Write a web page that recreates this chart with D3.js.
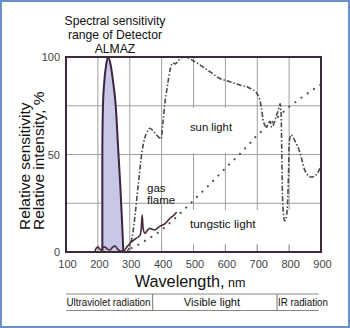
<!DOCTYPE html>
<html><head><meta charset="utf-8">
<script src="https://cdn.jsdelivr.net/npm/d3@7/dist/d3.min.js"></script>
<style>html,body{margin:0;padding:0;background:#fff;}svg{display:block;font-family:"Liberation Sans",Arial,sans-serif;}</style>
</head><body>
<svg id="c" width="350" height="328"></svg>
<script>
// ---- data (wavelength nm, relative %) ----
const xTicks = [100,200,300,400,500,600,700,800,900];
const yTicks = [0,50,100];
const yGrid = [25,50,75];
const detector = [[214,0],[214,30],[214,52],[216,75],[220,87],[226,96],[232,100],[240,96],[248,87],[256,75],[264,52],[270,35],[276,15],[280,0]];
const gasFlame = [[190,0],[195,2],[201,2.5],[206,1.5],[212,1],[217,2.5],[222,2.5],[230,1.5],[238,1],[246,2.5],[254,3],[262,1.5],[270,0.5],[280,0.5],[293,3],[306,5.3],[320,7],[332,8.5],[336,12],[339,19],[342,12],[348,9.6],[355,11],[363,12.1],[371,11.6],[379,11.3],[387,12.3],[395,13.3],[410,14.4],[418,15.8],[426,17.3],[434,18.3],[442,19.5],[447,20.5]];
const sunLight = [[290,0],[300,3],[310,10],[316,18],[327,35],[339,52],[348,59],[356,62],[363,63.5],[371,62.5],[379,61],[390,59],[398,58],[404,66],[410,76],[418,85],[426,93],[431,96],[436,97],[442,96.5],[450,97.5],[457,99],[473,100],[489,99],[505,97.5],[520,96],[551,92.5],[583,89],[614,87.3],[645,85.6],[677,84],[698,81.5],[708,78],[713,74],[718,68],[724,65],[729,64],[735,66],[740,67],[745,64],[750,65],[755,67],[760,70],[765,72],[772,76],[775,70],[777,50],[779,30],[782,20],[786,16],[790,17],[795,25],[798,40],[800,55],[803,59],[806,60],[818,57],[834,51],[849,42],[858,39.5],[865,38.6],[873,38.5],[881,39],[894,42],[900,45]];
const tungsten = [[285,0],[300,1.5],[330,4],[360,7],[390,10],[420,14],[450,18.5],[475,22.5],[500,26.5],[550,34.5],[600,43],[650,51],[700,60],[750,67],[800,74.5],[850,80.5],[900,86]];
const bandEdges = [100,372,762,893];
const bandLabels = ["Ultraviolet radiation","Visible light","IR radiation"];
const titleLines = ["Spectral sensitivity","range of Detector","ALMAZ"];

// ---- layout ----
const svg = d3.select("#c");
const x = d3.scaleLinear().domain([100,900]).range([66,321]);
const y = d3.scaleLinear().domain([0,100]).range([252,57]);

// outer blue frame
svg.append("rect").attr("x",1).attr("y",1).attr("width",348).attr("height",326)
  .attr("fill","#fff").attr("stroke","#6a90c8").attr("stroke-width",2);

// grid
const g = svg.append("g");
g.selectAll("line.vg").data(xTicks.slice(1,-1)).join("line")
  .attr("x1",d=>x(d)).attr("x2",d=>x(d)).attr("y1",y(100)).attr("y2",y(0))
  .attr("stroke","#a0a0a0").attr("stroke-width",1);
g.selectAll("line.hg").data(yGrid).join("line")
  .attr("x1",x(100)).attr("x2",x(900)).attr("y1",d=>y(d)).attr("y2",d=>y(d))
  .attr("stroke","#a0a0a0").attr("stroke-width",1);

// white label boxes
svg.append("rect").attr("x",184).attr("y",108).attr("width",52).attr("height",45).attr("fill","#fff");
svg.append("rect").attr("x",184).attr("y",210).attr("width",110).attr("height",34).attr("fill","#fff");

// detector area
const area = d3.area().x(d=>x(d[0])).y0(y(0)).y1(d=>y(d[1])).curve(d3.curveMonotoneX);
const lineM = d3.line().x(d=>x(d[0])).y(d=>y(d[1])).curve(d3.curveMonotoneX);
const lineL = d3.line().x(d=>x(d[0])).y(d=>y(d[1]));
svg.append("path").attr("d",area(detector)).attr("fill","#c8c8e6");
svg.append("path").attr("d",lineM(detector)).attr("fill","none").attr("stroke","#3d2540").attr("stroke-width",2);

// tungsten
svg.append("path").attr("d",lineL(tungsten)).attr("fill","none").attr("stroke","#555")
  .attr("stroke-width",2.2).attr("stroke-linecap","round").attr("stroke-dasharray","0.1,7.5");
// sun light
svg.append("path").attr("d",lineM(sunLight)).attr("fill","none").attr("stroke","#4a4a4a")
  .attr("stroke-width",1.6).attr("stroke-dasharray","5,2,1.5,2");
// gas flame
svg.append("path").attr("d",lineM(gasFlame)).attr("fill","none").attr("stroke","#4a2b3c").attr("stroke-width",1.6);

// bottom inner ticks
g.selectAll("line.tk").data(xTicks.slice(1,-1)).join("line")
  .attr("x1",d=>x(d)).attr("x2",d=>x(d)).attr("y1",y(0)-7).attr("y2",y(0))
  .attr("stroke","#a0a0a0").attr("stroke-width",1);

// plot frame
svg.append("rect").attr("x",x(100)).attr("y",y(100)).attr("width",x(900)-x(100)).attr("height",y(0)-y(100))
  .attr("fill","none").attr("stroke","#3d2a3a").attr("stroke-width",2);

// tick labels
svg.selectAll("text.xt").data(xTicks).join("text")
  .attr("x",d=>x(d)+1.5).attr("y",268).attr("text-anchor","middle")
  .attr("font-size",11).attr("fill","#444").text(d=>d);
svg.selectAll("text.yt").data(yTicks).join("text")
  .attr("x",60).attr("y",d=>y(d)+4).attr("text-anchor","end")
  .attr("font-size",11).attr("fill","#444").text(d=>d);

// title
svg.selectAll("text.tt").data(titleLines).join("text")
  .attr("x",115).attr("y",(d,i)=>25+i*14).attr("text-anchor","middle")
  .attr("font-size",12.2).attr("fill","#111").text(d=>d);

// y label
const yl = svg.append("text").attr("transform","translate(29.5,230) rotate(-90)").attr("font-size",15.5).attr("fill","#111");
yl.append("tspan").attr("x",0).attr("y",0).text("Relative sensitivity");
yl.append("tspan").attr("x",0).attr("y",14).text("Relative intensity, %");

// x label
const xl = svg.append("text").attr("x",190).attr("y",287).attr("text-anchor","middle").attr("fill","#111");
xl.append("tspan").attr("font-size",16.3).text("Wavelength,");
xl.append("tspan").attr("font-size",12.5).text(" nm");

// curve labels
svg.append("text").attr("x",211).attr("y",131).attr("text-anchor","middle").attr("font-size",11.3).attr("fill","#111").text("sun light");
svg.append("text").attr("x",147).attr("y",192).attr("font-size",11.5).attr("fill","#111").text("gas");
svg.append("text").attr("x",147).attr("y",204).attr("font-size",11.5).attr("fill","#111").text("flame");
svg.append("text").attr("x",190).attr("y",228).attr("font-size",11.8).attr("fill","#111").text("tungstic light");

// bottom band
const bg = svg.append("g");
bg.append("line").attr("x1",x(bandEdges[0])).attr("x2",x(bandEdges[3])).attr("y1",294).attr("y2",294).attr("stroke","#888");
bg.append("line").attr("x1",x(bandEdges[0])).attr("x2",x(bandEdges[3])).attr("y1",310.5).attr("y2",310.5).attr("stroke","#888");
bg.selectAll("line.sep").data(bandEdges.slice(1,3)).join("line")
  .attr("x1",d=>x(d)).attr("x2",d=>x(d)).attr("y1",294).attr("y2",310.5).attr("stroke","#777");
bg.append("text").attr("x",x(bandEdges[0])+0.5).attr("y",305.5).attr("font-size",10.5)
  .attr("textLength",84).attr("lengthAdjust","spacingAndGlyphs").attr("fill","#111").text(bandLabels[0]);
bg.append("text").attr("x",212).attr("y",305.5).attr("text-anchor","middle").attr("font-size",11.2).attr("fill","#111").text(bandLabels[1]);
bg.append("text").attr("x",x(bandEdges[2])+1).attr("y",305.5).attr("font-size",10.5)
  .attr("textLength",50).attr("lengthAdjust","spacingAndGlyphs").attr("fill","#111").text(bandLabels[2]);
</script>
</body></html>
